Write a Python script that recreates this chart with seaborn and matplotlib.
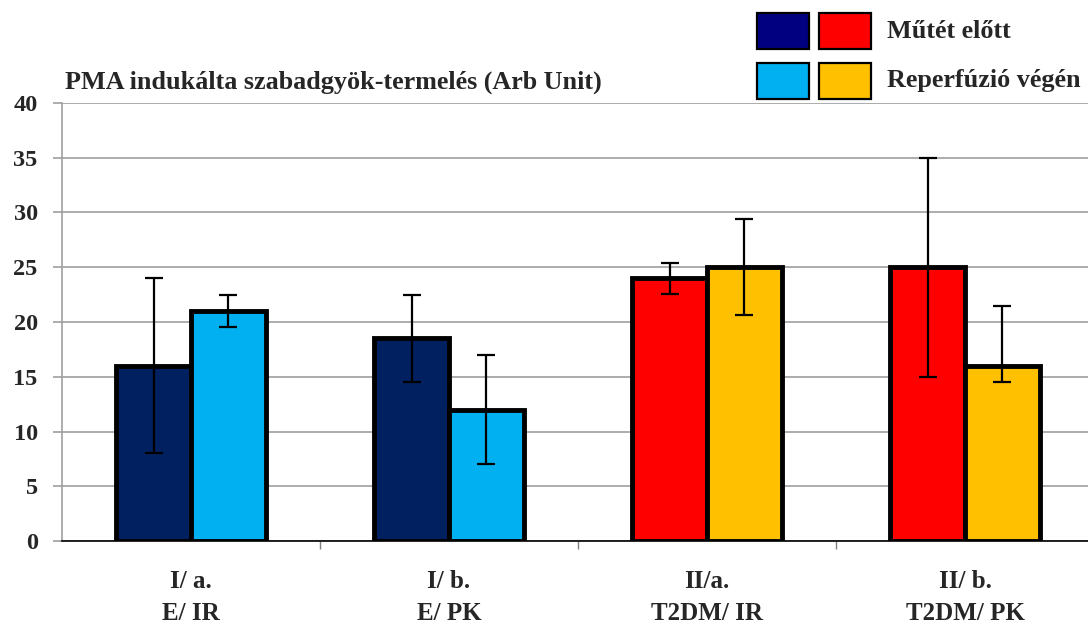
import matplotlib
matplotlib.use("Agg")
import matplotlib.pyplot as plt
import numpy as np
import pandas as pd
import seaborn as sns
from matplotlib.patches import Rectangle

# Groups (x-axis) and the two measurement phases
groups = ["I/ a.\nE/ IR", "I/ b.\nE/ PK", "II/a.\nT2DM/ IR", "II/ b.\nT2DM/ PK"]
phases = ["Műtét előtt", "Reperfúzió végén"]

# Mean values per group
before_vals = [16.0, 18.5, 24.0, 25.0]
after_vals = [21.0, 12.0, 25.0, 16.0]

# Error bar extents (lower, upper)
before_err_lo = [8.0, 4.0, 1.4, 10.0]
before_err_hi = [8.0, 4.0, 1.4, 10.0]
after_err_lo = [1.5, 5.0, 4.4, 1.5]
after_err_hi = [1.5, 5.0, 4.4, 5.5]

title_text = "PMA indukálta szabadgyök-termelés (Arb Unit)"
y_ticks = [0, 5, 10, 15, 20, 25, 30, 35, 40]

# Colours: healthy groups in blues, diabetic groups in red/gold
bar_colors = {
    "E": ["#002060", "#00B0F0"],
    "T2DM": ["#FF0000", "#FFC000"],
}
group_kind = ["E", "E", "T2DM", "T2DM"]
legend_colors = [["#000080", "#FF0000"], ["#00B0F0", "#FFC000"]]

df = pd.DataFrame({
    "group": groups * 2,
    "phase": [phases[0]] * 4 + [phases[1]] * 4,
    "value": before_vals + after_vals,
})

sns.set_theme(style="white")
plt.rcParams["font.family"] = ["Liberation Serif", "DejaVu Serif"]
plt.rcParams["font.weight"] = "bold"

fig = plt.figure(figsize=(10.88, 6.28), dpi=100)
ax = fig.add_axes([62 / 1088, 87 / 628, 1032 / 1088, 438 / 628])

sns.barplot(
    data=df, x="group", y="value", hue="phase",
    order=groups, hue_order=phases,
    palette=bar_colors["E"], saturation=1,
    width=0.578, errorbar=None, legend=False,
    edgecolor="black", linewidth=3.5, ax=ax, zorder=3,
)

errs = [(before_err_lo, before_err_hi), (after_err_lo, after_err_hi)]
bar_containers = list(ax.containers)
for i, cont in enumerate(bar_containers):
    lo, hi = errs[i]
    for j, bar in enumerate(cont):
        bar.set_facecolor(bar_colors[group_kind[j]][i])
        bar.set_joinstyle("miter")
        cx = bar.get_x() + bar.get_width() / 2
        ax.errorbar(cx, bar.get_height(), yerr=[[lo[j]], [hi[j]]],
                    fmt="none", ecolor="black", elinewidth=1.6,
                    capsize=6.5, capthick=1.6, zorder=4)

ax.set_xlim(-0.5, 3.5)
ax.set_ylim(0, 40)
ax.set_yticks(y_ticks)
ax.set_yticklabels([str(t) for t in y_ticks], fontsize=17.5, fontweight="bold")
ax.yaxis.grid(True, color="#a6a6a6", linewidth=1.3, zorder=0)
ax.set_axisbelow(True)
ax.tick_params(axis="y", length=6.5, width=1.3, color="#a6a6a6", pad=11, left=True)

ax.set_xticks(range(4))
ax.set_xticklabels(groups, fontsize=18, fontweight="bold", linespacing=1.5)
ax.set_xticks([0.5, 1.5, 2.5], minor=True)
ax.tick_params(axis="x", which="major", length=0, pad=21)
ax.tick_params(axis="x", which="minor", length=6, width=1, color="#808080", bottom=True)
ax.set_xlabel("")
ax.set_ylabel("")

for s in ["top", "right"]:
    ax.spines[s].set_visible(False)
ax.spines["left"].set_color("#a0a0a0")
ax.spines["left"].set_linewidth(1.2)
ax.spines["bottom"].set_color("black")
ax.spines["bottom"].set_linewidth(1.2)
ax.spines["bottom"].set_zorder(5)

fig.text(65 / 1088, 1 - 82 / 628, title_text, fontsize=18.8, fontweight="bold",
         ha="left", va="center")

# Legend: paired swatches for each phase
W, H = 1088, 628
rows_y = [13, 63]
cols_x = [757, 819]
for r, yy in enumerate(rows_y):
    for c, xx in enumerate(cols_x):
        fig.patches.append(Rectangle((xx / W, 1 - (yy + 36) / H), 52 / W, 36 / H,
                                     transform=fig.transFigure,
                                     facecolor=legend_colors[r][c],
                                     edgecolor="black", linewidth=1.6))
    fig.text(887 / W, 1 - (yy + 18) / H, phases[r], fontsize=18.8, fontweight="bold",
             ha="left", va="center")

fig.savefig("out.png", dpi=100)
